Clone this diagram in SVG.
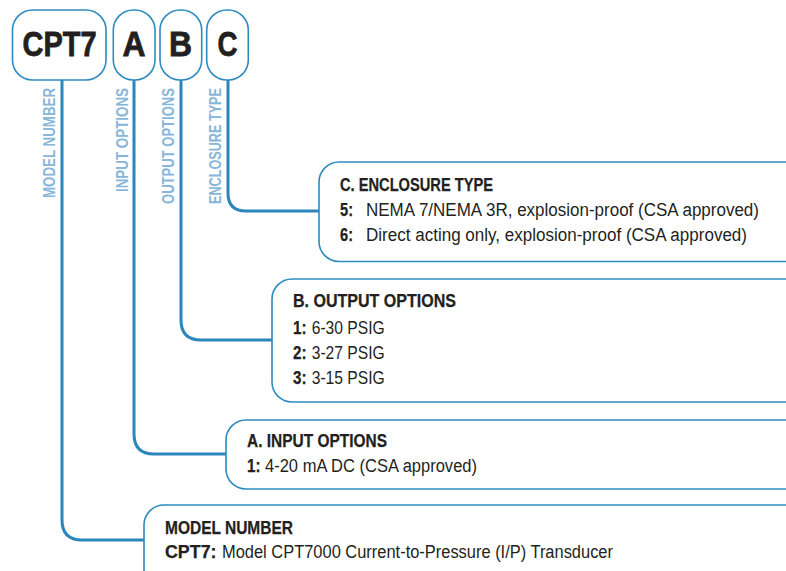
<svg xmlns="http://www.w3.org/2000/svg" width="786" height="571" viewBox="0 0 786 571">
<style>
.box{fill:#fff;stroke:#2e8bc0;stroke-width:1.6}
.con{fill:none;stroke:#2a86bd;stroke-width:3}
text{font-family:"Liberation Sans",Arial,sans-serif;fill:#231f20}
.big{font-size:35px;font-weight:bold;text-anchor:middle;stroke:#231f20;stroke-width:0.8}
.vl{font-size:16.5px;font-weight:bold;fill:#86b6da}
.t{font-size:18px;font-weight:bold;stroke:#231f20;stroke-width:0.25}
.r{font-size:18px}
.b{font-size:18px;font-weight:bold;stroke:#231f20;stroke-width:0.25}
</style>
<rect width="786" height="571" fill="#fff"/>
<g id="connectors">
<path class="con" d="M62,80 V520 Q62,540 82,540 H144"/>
<path class="con" d="M134,80 V434 Q134,454 154,454 H226"/>
<path class="con" d="M181,80 V320 Q181,340 201,340 H272"/>
<path class="con" d="M228,80 V193 Q228,211 246,211 H319"/>
</g>
<g id="code-cpt7">
<rect class="box" x="12.5" y="10" width="93.5" height="70" rx="20"/>
<text class="big" x="59.5" y="55.5" textLength="74" lengthAdjust="spacingAndGlyphs">CPT7</text>
</g>
<g id="code-a">
<rect class="box" x="113.3" y="10" width="41.7" height="70" rx="20"/>
<text class="big" x="134" y="55.5" textLength="23" lengthAdjust="spacingAndGlyphs">A</text>
</g>
<g id="code-b">
<rect class="box" x="160" y="10" width="41.7" height="70" rx="20"/>
<text class="big" x="180.5" y="55.5" textLength="23" lengthAdjust="spacingAndGlyphs">B</text>
</g>
<g id="code-c">
<rect class="box" x="206.7" y="10" width="41.6" height="70" rx="20"/>
<text class="big" x="227.5" y="55.5" textLength="20" lengthAdjust="spacingAndGlyphs">C</text>
</g>
<g id="labels">
<text class="vl" transform="translate(55,198) rotate(-90)" textLength="110" lengthAdjust="spacingAndGlyphs">MODEL NUMBER</text>
<text class="vl" transform="translate(128,192) rotate(-90)" textLength="104" lengthAdjust="spacingAndGlyphs">INPUT OPTIONS</text>
<text class="vl" transform="translate(174,204) rotate(-90)" textLength="116" lengthAdjust="spacingAndGlyphs">OUTPUT OPTIONS</text>
<text class="vl" transform="translate(221,204) rotate(-90)" textLength="116" lengthAdjust="spacingAndGlyphs">ENCLOSURE TYPE</text>
</g>
<g id="enclosure-type">
<rect class="box" x="319" y="162" width="490" height="99.5" rx="20"/>
<text class="t" x="340" y="191" textLength="153" lengthAdjust="spacingAndGlyphs">C. ENCLOSURE TYPE</text>
<text class="b" x="340" y="215.5" textLength="13" lengthAdjust="spacingAndGlyphs">5:</text>
<text class="r" x="366" y="215.5" textLength="393" lengthAdjust="spacingAndGlyphs">NEMA 7/NEMA 3R, explosion-proof (CSA approved)</text>
<text class="b" x="340" y="240.5" textLength="13" lengthAdjust="spacingAndGlyphs">6:</text>
<text class="r" x="366" y="240.5" textLength="381" lengthAdjust="spacingAndGlyphs">Direct acting only, explosion-proof (CSA approved)</text>
</g>
<g id="output-options">
<rect class="box" x="272" y="279" width="540" height="123" rx="20"/>
<text class="t" x="293" y="307" textLength="163" lengthAdjust="spacingAndGlyphs">B. OUTPUT OPTIONS</text>
<text class="b" x="293" y="333.5" textLength="13.5" lengthAdjust="spacingAndGlyphs">1:</text>
<text class="r" x="311.7" y="333.5" textLength="73" lengthAdjust="spacingAndGlyphs">6-30 PSIG</text>
<text class="b" x="293" y="358.5" textLength="13.5" lengthAdjust="spacingAndGlyphs">2:</text>
<text class="r" x="311.7" y="358.5" textLength="73" lengthAdjust="spacingAndGlyphs">3-27 PSIG</text>
<text class="b" x="293" y="383.5" textLength="13.5" lengthAdjust="spacingAndGlyphs">3:</text>
<text class="r" x="311.7" y="383.5" textLength="73" lengthAdjust="spacingAndGlyphs">3-15 PSIG</text>
</g>
<g id="input-options">
<rect class="box" x="226" y="420" width="590" height="69" rx="20"/>
<text class="t" x="247" y="447" textLength="140" lengthAdjust="spacingAndGlyphs">A. INPUT OPTIONS</text>
<text class="b" x="247" y="472" textLength="13.5" lengthAdjust="spacingAndGlyphs">1:</text>
<text class="r" x="265" y="472" textLength="212" lengthAdjust="spacingAndGlyphs">4-20 mA DC (CSA approved)</text>
</g>
<g id="model-number">
<rect class="box" x="144" y="505" width="680" height="100" rx="20"/>
<text class="t" x="165" y="534" textLength="128" lengthAdjust="spacingAndGlyphs">MODEL NUMBER</text>
<text class="b" x="165" y="558" textLength="51.5" lengthAdjust="spacingAndGlyphs">CPT7:</text>
<text class="r" x="222" y="558" textLength="391" lengthAdjust="spacingAndGlyphs">Model CPT7000 Current-to-Pressure (I/P) Transducer</text>
</g>
</svg>
